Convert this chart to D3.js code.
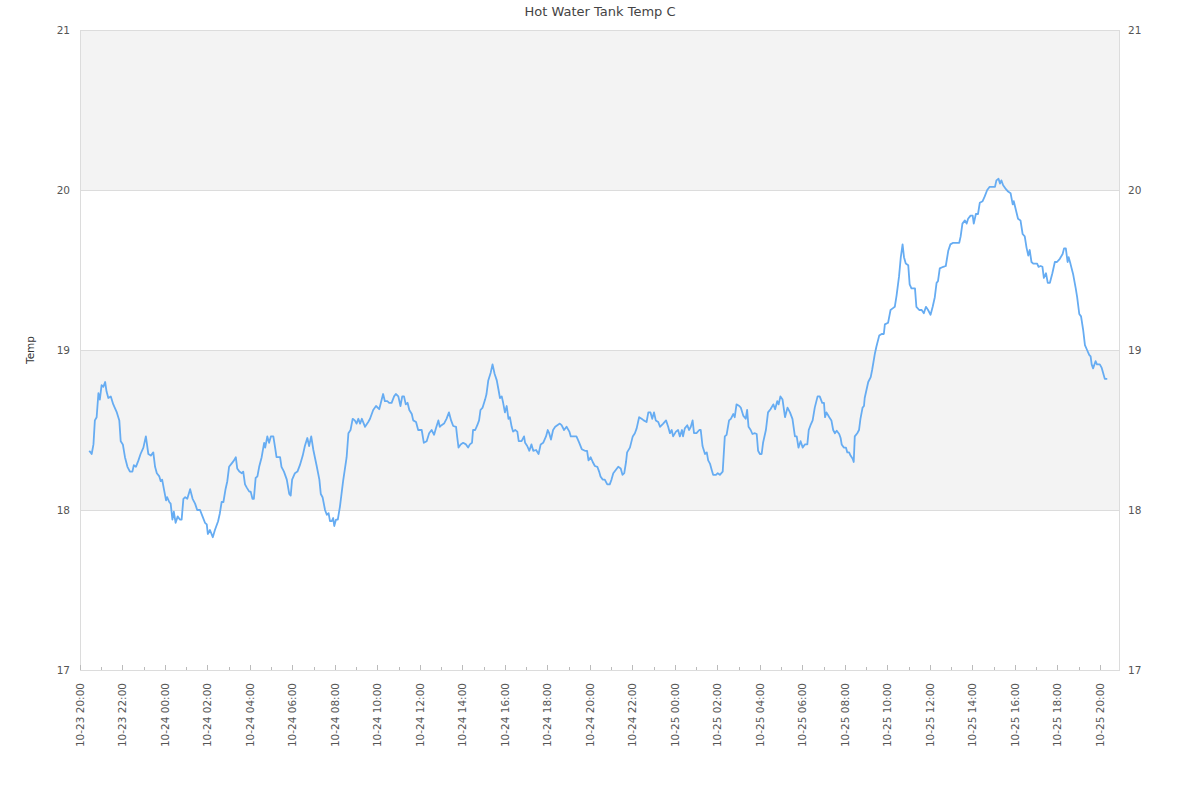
<!DOCTYPE html>
<html>
<head>
<meta charset="utf-8">
<script src="https://cdn.jsdelivr.net/npm/d3@7"></script>
<style>
  html, body { margin: 0; padding: 0; background: #fff; }
  svg { display: block; font-family: "DejaVu Sans", sans-serif; }
</style>
</head>
<body>
<svg id="chart" width="1200" height="800"></svg>
<script>
// ---- data ----
const chartTitle = "Hot Water Tank Temp C";
const yAxisTitle = "Temp";
const startTime = "2023-10-23 20:00";
const endTime = "2023-10-25 20:57";
const yTicks = [17, 18, 19, 20, 21];
const bandRanges = [[18, 19], [20, 21]];

// minutes after startTime
const minutes = [
  26,30,33,38,42,47,52,56,61,66,71,75,80,87,94,104,111,115,121,127,134,141,148,152,158,165,171,179,186,193,200,207,212,217,224,228,232,237,243,246,252,256,261,265,270,276,282,287,292,297,303,311,318,325,331,339,346,353,358,361,367,375,381,390,395,400,405,411,416,421,428,435,440,444,450,457,461,466,471,478,482,487,491,496,501,506,513,520,523,529,534,539,546,551,555,565,569,576,584,591,595,599,607,614,621,629,635,642,647,653,659,668,676,680,685,692,697,702,706,711,715,718,723,728,734,743,753,758,764,770,776,781,786,791,796,805,814,
  819,828,836,845,852,856,861,868,873,880,887,892,899,905,910,915,920,925,930,937,941,949,955,965,971,979,986,993,1000,1005,1012,1016,1021,1028,1035,1042,1048,1054,1062,1065,1069,1075,1082,1090,1096,1101,1107,1110,1116,1122,1127,1131,1137,1144,1148,1153,1160,1165,1171,1177,1182,1186,1191,1195,1200,1205,1210,1214,1219,1223,1229,1235,1239,1247,1254,1257,1263,1269,1275,1280,1288,1295,1301,1308,1316,1321,1325,1330,1336,1342,1348,1355,1360,1367,1374,1382,1386,1402,1410,1417,1426,1432,1436,1442,1448,1454,1461,1466,1470,1476,1482,1489,1496,1501,1506,1513,1520,1527,1532,1537,1542,1545,1553,1561,1567,1572,1579,1586,1592,1600,1605,1611,1616,1621,1626,1633,
  1638,1647,1655,1661,1666,1671,1675,1683,1689,1694,1700,1703,1708,1715,1720,1725,1730,1734,1741,1749,1753,1758,1765,1770,1774,1779,1784,1788,1796,1801,1807,1815,1821,1826,1833,1838,1845,1849,1854,1862,1866,1873,1880,1884,1888,1894,1899,1906,1911,1915,1920,1925,1929,1937,1943,1950,1958,1963,1969,1973,1978,1984,1991,1998,2005,2012,2019,2024,2029,2035,2041,2047,2054,2058,2063,2069,2075,2083,2089,2096,2101,2104,2108,2116,2122,2127,2132,2137,2144,2148,2151,2157,2163,2167,2172,2176,2182,2185,2188,2195,2200,2204,2210,2214,
  2216,2226,2233,2237,2245,2249,2257,2264,2270,2273,2282,2289,2295,2301,2306,2313,2318,2323,2327,2332,2339,2343,2348,2358,2362,2370,2377,2383,2389,2395,2402,2408,2414,2419,2423,2428,2438,2445,2452,2458,2466,2483,2487,2492,2499,2504,2508,2515,2521,2524,2530,2536,2541,2549,2555,2562,2569,2577,2584,2588,2594,2598,2602,2607,2615,2621,2628,2634,2637,2643,2649,2656,2662,2668,2673,2678,2682,2687,2692,2703,2707,2713,2718,2722,2728,2733,2739,2746,2753,2759,2767,2775,2779,2784,2789,2792,2797,2805,2812,2816,2822,2827,2833,2838,2844,2850,2854,2857,2861,2868,2872,2880,2885,2889,2894,2901
];

const temps = [
  18.37,18.36,18.35,18.41,18.56,18.58,18.73,18.69,18.78,18.77,18.80,18.74,18.70,18.71,18.66,18.61,18.56,18.43,18.41,18.33,18.27,18.24,18.24,18.28,18.27,18.31,18.35,18.39,18.46,18.35,18.34,18.36,18.27,18.23,18.21,18.18,18.19,18.13,18.06,18.08,18.05,18.04,17.94,17.99,17.92,17.96,17.94,17.94,18.07,18.08,18.07,18.13,18.07,18.04,18.00,18.00,17.96,17.92,17.91,17.85,17.875,17.83,17.875,17.93,17.98,18.05,18.05,18.13,18.18,18.27,18.29,18.31,18.33,18.26,18.24,18.23,18.24,18.16,18.14,18.115,18.115,18.07,18.07,18.20,18.21,18.27,18.33,18.42,18.39,18.46,18.42,18.46,18.46,18.39,18.33,18.33,18.27,18.24,18.19,18.10,18.09,18.19,18.23,18.24,18.28,18.34,18.40,18.45,18.40,18.46,18.375,18.28,18.19,18.10,18.08,18.00,17.97,17.98,17.93,17.93,17.95,17.90,17.94,17.94,18.02,18.18,18.33,18.48,18.50,18.57,18.56,18.54,18.57,18.54,18.57,18.52,18.55,
  18.57,18.625,18.65,18.63,18.69,18.725,18.68,18.68,18.67,18.67,18.71,18.725,18.71,18.65,18.71,18.71,18.66,18.67,18.625,18.60,18.56,18.55,18.50,18.50,18.42,18.43,18.48,18.50,18.47,18.51,18.56,18.52,18.53,18.54,18.57,18.61,18.56,18.525,18.52,18.46,18.39,18.41,18.42,18.41,18.39,18.41,18.42,18.50,18.50,18.53,18.56,18.625,18.64,18.69,18.725,18.81,18.86,18.91,18.85,18.81,18.75,18.70,18.71,18.67,18.61,18.65,18.57,18.58,18.52,18.49,18.50,18.49,18.43,18.43,18.46,18.42,18.40,18.37,18.41,18.37,18.375,18.35,18.41,18.42,18.46,18.50,18.48,18.44,18.50,18.52,18.53,18.54,18.53,18.50,18.52,18.49,18.46,18.46,18.42,18.38,18.37,18.37,18.31,18.33,18.30,18.275,18.27,18.24,18.21,18.19,18.19,18.16,18.16,18.19,18.23,18.25,18.27,18.26,18.22,18.23,18.30,18.36,18.39,18.46,18.48,18.51,18.58,18.57,18.56,18.55,18.61,18.61,18.57,18.61,18.56,18.55,
  18.52,18.54,18.56,18.52,18.48,18.50,18.46,18.49,18.50,18.46,18.50,18.46,18.51,18.53,18.50,18.52,18.56,18.48,18.48,18.50,18.50,18.40,18.35,18.36,18.31,18.29,18.25,18.22,18.22,18.23,18.22,18.24,18.46,18.47,18.56,18.57,18.60,18.58,18.66,18.65,18.64,18.59,18.57,18.625,18.52,18.50,18.475,18.48,18.475,18.37,18.35,18.35,18.42,18.50,18.61,18.63,18.66,18.63,18.68,18.66,18.71,18.69,18.58,18.64,18.61,18.57,18.46,18.46,18.39,18.43,18.39,18.41,18.41,18.50,18.53,18.56,18.64,18.71,18.71,18.67,18.67,18.58,18.61,18.58,18.56,18.50,18.48,18.495,18.475,18.45,18.41,18.39,18.39,18.36,18.36,18.34,18.32,18.30,18.46,18.48,18.50,18.57,18.64,18.65,
  18.70,18.80,18.83,18.875,18.98,19.02,19.09,19.10,19.10,19.16,19.17,19.25,19.26,19.27,19.34,19.46,19.58,19.66,19.58,19.54,19.53,19.41,19.385,19.385,19.27,19.25,19.25,19.23,19.27,19.25,19.22,19.27,19.33,19.42,19.43,19.51,19.52,19.525,19.62,19.66,19.67,19.67,19.71,19.79,19.81,19.79,19.82,19.84,19.84,19.79,19.85,19.85,19.92,19.93,19.96,20.00,20.02,20.02,20.02,20.06,20.07,20.04,20.06,20.03,20.005,19.99,19.98,19.91,19.93,19.875,19.82,19.81,19.725,19.71,19.64,19.59,19.625,19.55,19.54,19.54,19.52,19.525,19.52,19.45,19.48,19.42,19.42,19.48,19.55,19.55,19.57,19.60,19.635,19.635,19.55,19.58,19.54,19.47,19.385,19.33,19.225,19.21,19.125,19.03,19.00,18.97,18.96,18.91,18.885,18.93,18.91,18.91,18.89,18.86,18.82,18.82
];

// ---- chart ----
const W = 1200, H = 800;
const margin = {left: 80, right: 80, top: 30, bottom: 130};
const svg = d3.select("#chart");
const parse = d3.timeParse("%Y-%m-%d %H:%M");
const t0 = parse(startTime), t1 = parse(endTime);
const data = minutes.map((m, i) => ({t: d3.timeMinute.offset(t0, m), v: temps[i]}));

const x = d3.scaleTime().domain([t0, t1]).range([margin.left, W - margin.right]);
const y = d3.scaleLinear().domain([17, 21]).range([H - margin.bottom, margin.top]);

const x0 = margin.left, x1 = W - margin.right;
const fontSize = "10.5px";
const textColor = "#555";
const gridColor = "#dcdcdc";

// bands
svg.append("g").selectAll("rect").data(bandRanges).join("rect")
  .attr("x", x0).attr("width", x1 - x0)
  .attr("y", d => y(d[1])).attr("height", d => y(d[0]) - y(d[1]))
  .attr("fill", "#f3f3f3");

// horizontal grid lines
svg.append("g").selectAll("line").data(yTicks).join("line")
  .attr("x1", x0).attr("x2", x1)
  .attr("y1", d => Math.round(y(d)) + 0.5).attr("y2", d => Math.round(y(d)) + 0.5)
  .attr("stroke", gridColor).attr("stroke-width", 1);

// frame
svg.append("rect")
  .attr("x", x0 + 0.5).attr("y", y(21) + 0.5)
  .attr("width", x1 - x0 - 1).attr("height", y(17) - y(21))
  .attr("fill", "none").attr("stroke", gridColor).attr("stroke-width", 1);

// y labels both sides
svg.append("g").selectAll("text").data(yTicks).join("text")
  .attr("x", x0 - 10).attr("y", d => y(d)).attr("dy", "0.35em")
  .attr("text-anchor", "end").attr("font-size", fontSize).attr("fill", textColor)
  .text(d => d);
svg.append("g").selectAll("text").data(yTicks).join("text")
  .attr("x", x1 + 8).attr("y", d => y(d)).attr("dy", "0.35em")
  .attr("text-anchor", "start").attr("font-size", fontSize).attr("fill", textColor)
  .text(d => d);

// x axis ticks
const yb = y(17);
const majors = d3.timeHour.every(2).range(t0, t1);
const minors = d3.timeHour.every(1).range(t0, t1).filter(d => d.getHours() % 2 === 1);
svg.append("g").selectAll("line").data(majors).join("line")
  .attr("x1", d => Math.round(x(d)) + 0.5).attr("x2", d => Math.round(x(d)) + 0.5)
  .attr("y1", yb - 5).attr("y2", yb)
  .attr("stroke", "#bbb");
svg.append("g").selectAll("line").data(minors).join("line")
  .attr("x1", d => Math.round(x(d)) + 0.5).attr("x2", d => Math.round(x(d)) + 0.5)
  .attr("y1", yb - 3).attr("y2", yb)
  .attr("stroke", "#bbb");
const fmt = d3.timeFormat("%m-%d %H:%M");
svg.append("g").selectAll("text").data(majors).join("text")
  .attr("transform", d => `translate(${x(d)},${yb + 13}) rotate(-90)`)
  .attr("dy", "0.35em").attr("text-anchor", "end")
  .attr("font-size", fontSize).attr("fill", textColor)
  .text(d => fmt(d));

// line
const line = d3.line().x(d => x(d.t)).y(d => y(d.v));
svg.append("path").datum(data)
  .attr("d", line).attr("fill", "none")
  .attr("stroke", "#66acf2").attr("stroke-width", 1.8)
  .attr("stroke-linejoin", "round");

// titles
svg.append("text").attr("x", 600).attr("y", 11).attr("dy", "0.35em")
  .attr("text-anchor", "middle").attr("font-size", "13px").attr("fill", "#444")
  .text(chartTitle);
svg.append("text").attr("transform", `translate(30,${(y(17) + y(21)) / 2}) rotate(-90)`)
  .attr("dy", "0.35em").attr("text-anchor", "middle")
  .attr("font-size", fontSize).attr("fill", "#333")
  .text(yAxisTitle);
</script>
</body>
</html>
